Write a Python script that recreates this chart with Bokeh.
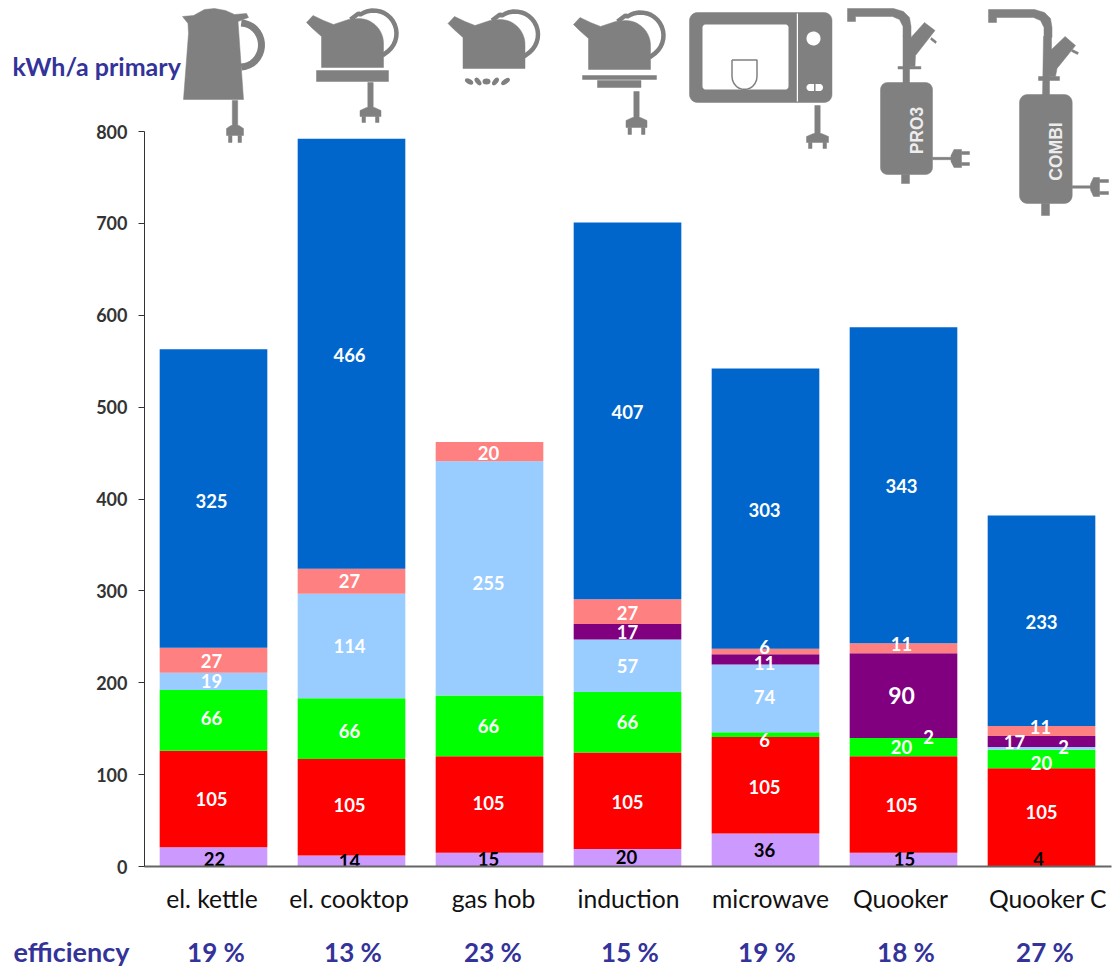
import numpy as np
from bokeh.embed import file_html
from bokeh.resources import INLINE
from bokeh.plotting import figure
from bokeh.layouts import column, row
from bokeh.models import ColumnDataSource, Range1d, FixedTicker
from bokeh.core.properties import value

categories = ["el. kettle", "el. cooktop", "gas hob", "induction", "microwave", "Quooker", "Quooker C"]
efficiency = ["19 %", "13 %", "23 %", "15 %", "19 %", "18 %", "27 %"]
series_names = ["base", "heating", "standby", "delivery", "storage", "cooling", "losses"]

base     = [21, 12, 15, 19, 36, 15, 0]
heating  = [105, 105, 105, 105, 105, 105, 107]
standby  = [66, 66, 66, 66, 5, 20, 20]
delivery = [19, 114, 255, 57, 74, 0, 3]
storage  = [0, 0, 0, 17, 11, 92, 12]
cooling  = [27, 27, 21, 27, 6, 11, 11]
losses   = [325, 468, 0, 410, 305, 344, 229]

base_lab     = ["22", "14", "15", "20", "36", "15", "4"]
heating_lab  = ["105", "105", "105", "105", "105", "105", "105"]
standby_lab  = ["66", "66", "66", "66", "6", "20", "20"]
delivery_lab = ["19", "114", "255", "57", "74", "2", "2"]
storage_lab  = ["", "", "", "17", "11", "90", "17"]
cooling_lab  = ["27", "27", "20", "27", "6", "11", "11"]
losses_lab   = ["325", "466", "", "407", "303", "343", "233"]

colors = ["#CC99FF", "#FF0000", "#00FF00", "#99CCFF", "#800080", "#FF8080", "#0066CC"]

# label nudges in screen pixels (manual placement in the original chart)
nudge_y = [[2, 0, -1, -1, 0, -1, -8], [0, -2, -1, 1, 2, 1, -5], [-2, 2, 0, 0, 5, 0, 4],
           [0, 0, 5, 0, -1, -1, -1], [0, 0, 0, 0, 4, 0, 0], [1, 0, 1, 1, -5, -4, -4], [2, 1, 0, 1, 1, 1, 1]]
nudge_x = [[1, -2, -1, -1, -1, 1, -3], [-2, -2, -1, 0, -1, -2, 0], [-2, -2, -1, 0, -1, -2, 0],
           [-2, -2, -1, 0, -1, 25, 22], [-2, -2, -1, 0, -1, -2, -27], [-2, -2, -1, 0, -1, -2, -1],
           [-2, -2, -1, 0, -1, -2, 0]]
tick_nudge = [-1.5, -2.5, 4, 1, 5, -3, 6.5]  # category captions are not quite centred under their bars

FONT = "Lato"
NAVY = "#333399"
GREY = "#808080"
W, H = 1114, 969
SCALE = 735 / 800.0  # pixels per kWh/a
SLOT = 138.0         # pixels per category

p = figure(width=W, height=H, output_backend="svg", toolbar_location=None,
           x_range=Range1d(0, (W - 144) / SLOT),
           y_range=Range1d(0, 866 / SCALE),
           min_border_left=144, min_border_right=0, min_border_top=0, min_border_bottom=H - 866)
p.outline_line_color = None
p.grid.visible = False
p.background_fill_color = "white"

slots = [i + 0.5 for i in range(len(categories))]
data = dict(slot=slots, base=base, heating=heating, standby=standby, delivery=delivery,
            storage=storage, cooling=cooling, losses=losses)
p.vbar_stack(series_names, x="slot", width=0.78, color=colors, line_color=None,
             source=ColumnDataSource(data))

# value labels
all_vals = [base, heating, standby, delivery, storage, cooling, losses]
all_labs = [base_lab, heating_lab, standby_lab, delivery_lab, storage_lab, cooling_lab, losses_lab]
stack = np.cumsum(np.array(all_vals, dtype=float), axis=0)
tx, ty, tt, tcol, tsize, ox, oy = [], [], [], [], [], [], []
for s, labs in enumerate(all_labs):
    for c, lab in enumerate(labs):
        if not lab:
            continue
        tx.append(slots[c])
        ty.append(stack[s, c] - all_vals[s][c] / 2.0)
        tt.append(lab)
        tcol.append("black" if s == 0 else "white")
        tsize.append("23px" if lab == "90" else "18.5px")
        ox.append(nudge_x[s][c])
        oy.append(nudge_y[s][c])
p.text(x="tx", y="ty", text="tt", text_color="tcol", text_font_size="tsize",
       text_font=value(FONT), text_font_style="bold", text_align="center", text_baseline="middle",
       x_offset="ox", y_offset="oy",
       source=ColumnDataSource(dict(tx=tx, ty=ty, tt=tt, tcol=tcol, tsize=tsize, ox=ox, oy=oy)))

# axes
ya = p.yaxis[0]
ya.bounds = (0, 800)
ya.ticker = list(range(0, 801, 100))
ya.axis_line_color = "#333333"
ya.axis_line_width = 1
ya.major_tick_line_color = "#333333"
ya.major_tick_in = 0
ya.major_tick_out = 6
ya.minor_tick_line_color = None
ya.major_label_text_font = FONT
ya.major_label_text_font_style = "bold"
ya.major_label_text_font_size = "18px"
ya.major_label_text_color = "#333333"
ya.major_label_standoff = 11

label_ticks = [s + d / SLOT for s, d in zip(slots, tick_nudge)]
xa = p.xaxis[0]
xa.bounds = (0, 7.01)
xa.ticker = FixedTicker(ticks=label_ticks)
xa.major_label_overrides = {s: c for s, c in zip(label_ticks, categories)}
xa.axis_line_color = "#666666"
xa.axis_line_width = 2
xa.major_tick_line_color = None
xa.minor_tick_line_color = None
xa.major_label_text_font = FONT
xa.major_label_text_font_size = "24.7px"
xa.major_label_text_color = "#111111"
xa.major_label_standoff = 11

# transparent full-page layer, in page pixels, for the pictograms and the free captions
o = figure(width=W, height=H, output_backend="svg", toolbar_location=None,
           x_range=Range1d(0, W), y_range=Range1d(H, 0),
           x_axis_location=None, y_axis_location=None,
           min_border=0)
o.outline_line_color = None
o.grid.visible = False
o.background_fill_alpha = 0
o.border_fill_alpha = 0

eff_x = [215.5, 352.5, 492.5, 629.5, 766.5, 905.5, 1044.5]
o.text(x=[12], y=[65], text=["kWh/a primary"], text_font=value(FONT),
       text_font_style="bold", text_font_size="25px", text_color=NAVY, text_align="left", text_baseline="middle")
o.text(x=[13], y=[951], text=["efficiency"], text_font=value(FONT),
       text_font_style="bold", text_font_size="27px", text_color=NAVY, text_align="left", text_baseline="middle")
o.text(x=eff_x, y=[951.5] * 7, text=efficiency, text_font=value(FONT), text_font_style="bold",
       text_font_size="26px", text_color=NAVY, text_align="center", text_baseline="middle")


# ---- pictograms ----
def rect(x0, y0, x1, y1):
    return [(x0, y0), (x1, y0), (x1, y1), (x0, y1)]


def arc(cx, cy, rx, ry, a0, a1, n=14):
    return [(cx + rx * np.cos(a), cy + ry * np.sin(a)) for a in np.radians(np.linspace(a0, a1, n))]


def rrect(x0, y0, x1, y1, r):
    pts = []
    for cx, cy, a0 in [(x1 - r, y0 + r, -90), (x1 - r, y1 - r, 0), (x0 + r, y1 - r, 90), (x0 + r, y0 + r, 180)]:
        pts += arc(cx, cy, r, r, a0, a0 + 90, 7)
    return pts


def shift(pts, dx, dy):
    return [(x + dx, y + dy) for x, y in pts]


def plug_down(cx, cord_top, head_top, head_bot, prong_bot, hw):
    return [rect(cx - 2.7, cord_top, cx + 2.7, head_top + 3),
            [(cx - 4, head_top), (cx + 4, head_top), (cx + hw, head_top + 3), (cx + hw, head_bot),
             (cx - hw, head_bot), (cx - hw, head_top + 3)],
            rect(cx - hw + 2, head_bot, cx - hw + 5.5, prong_bot),
            rect(cx + hw - 5.5, head_bot, cx + hw - 2, prong_bot)]


def plug_right(y, cord_l, head_l, head_r, prong_r, hh):
    return [rect(cord_l, y - 1.2, head_l + 3, y + 1.2),
            [(head_l, y - 3), (head_l + 3, y - hh), (head_r, y - hh), (head_r, y + hh), (head_l + 3, y + hh), (head_l, y + 3)],
            rect(head_r, y - hh + 2, prong_r, y - hh + 5),
            rect(head_r, y + hh - 5, prong_r, y + hh - 2)]


TEAPOT = [(306, 22), (312.5, 15), (323, 20), (333, 24), (348, 19)] + arc(358, 43, 25, 25, -90, 0) + \
         [(383, 67), (321, 67), (321, 36), (312, 28)]
HANDLE = [(350, 19), (358, 13)] + arc(373, 33, 23, 23, -125, 50, 18) + [(382, 55)]


def polyline(pts, dx=0, dy=0, lw=4.5):
    return ([x + dx for x, _ in pts], [y + dy for _, y in pts], lw)


grey = []
lines = []
# electric kettle
grey.append([(182, 16), (193, 15), (204, 9), (214, 8), (225, 10), (234, 14), (246, 13), (248, 17), (237.5, 21),
             (243, 99), (183, 99), (188, 33), (187.5, 23)])
lines.append(polyline(arc(240, 44.5, 21, 22, -88, 88, 18), lw=7))
grey += plug_down(234.5, 100, 125, 135, 142, 8.5)
# cooktop
grey.append(TEAPOT)
lines.append(polyline(HANDLE))
grey.append(rect(316, 70, 388, 81))
grey += plug_down(370, 82, 107, 116, 122, 10.5)
# gas hob
grey.append(shift(TEAPOT, 141.5, 1))
lines.append(polyline(HANDLE, 141.5, 1))
# induction
grey.append(shift(TEAPOT, 267, 2))
lines.append(polyline(HANDLE, 267, 2))
grey.append(rect(582, 75, 656, 79))
grey.append(rect(597, 80, 640.5, 87))
grey += plug_down(636, 91, 117, 127, 134, 10.5)
# microwave
grey.append(rrect(689, 12, 831.5, 102, 8))
grey += plug_down(817, 105, 133, 142, 148, 11)


# Quooker PRO3
def faucet(dx, dy):
    return [[(847 + dx, 8 + dy), (893 + dx, 8 + dy), (903 + dx, 11 + dy), (909 + dx, 17 + dy), (910.5 + dx, 26 + dy),
             (910.5 + dx, 36 + dy), (902.5 + dx, 36 + dy), (902.5 + dx, 26 + dy), (899 + dx, 19 + dy), (892 + dx, 16 + dy),
             (855 + dx, 16 + dy), (855 + dx, 21 + dy), (847 + dx, 21 + dy)]]


grey += faucet(0, 0)
grey.append([(902.5, 35), (910.5, 35), (910.5, 37), (924, 22), (934.5, 30), (915, 55), (914.5, 66), (909, 66), (909, 84), (902.5, 84)])
grey.append(rect(897.5, 66, 920.4, 68.5))
grey.append([(931, 37), (936, 41), (935, 43), (930, 39)])
grey.append(rrect(880, 82, 932, 174, 7))
grey.append(rect(901, 174, 909, 183))
grey += plug_right(158, 932, 950.5, 961, 969, 9)
# Quooker COMBI
grey += faucet(141, 1)
grey.append([(1043, 36), (1051, 36), (1051, 49), (1064.6, 36), (1075, 45), (1056.5, 68), (1055, 76), (1049, 76), (1049, 96), (1042, 96)])
grey.append(rect(1038, 76, 1059, 80))
grey.append([(1072, 49), (1078, 52), (1077, 54), (1071, 51)])
grey.append(rrect(1019, 94, 1071.7, 203, 8))
grey.append(rect(1041, 203, 1049, 215))
grey += plug_right(186.5, 1071.7, 1090, 1099, 1108, 9.5)

o.patches([[a for a, _ in s] for s in grey], [[b for _, b in s] for s in grey],
          fill_color=GREY, line_color=GREY, line_width=0.5)
for xs, ys, lw in lines:
    o.line(xs, ys, line_color=GREY, line_width=lw)
# flames of the gas hob
o.ellipse(x=[468.6, 477.5, 486, 495, 505], y=[81, 81, 81, 81, 81], width=[9, 9, 6, 9, 10], height=[5, 5, 8, 5, 5],
          angle=[-0.5, -0.9, 1.57, 0.9, 0.6], fill_color=GREY, line_color=None)

white = [rrect(702, 24, 788, 89, 3), rect(796.3, 13, 797.5, 101), rrect(806, 83.5, 822.5, 90.5, 3.4),
         arc(813, 38, 7, 7, 0, 360, 40)]
o.patches([[a for a, _ in s] for s in white], [[b for _, b in s] for s in white],
          fill_color="white", line_color=None)
cup = [(731.5, 59.5), (756.5, 59.5), (756.5, 76)] + arc(744, 76, 12.5, 13, 0, 180, 12) + [(731.5, 59.5)]
o.line([a for a, _ in cup], [b for _, b in cup], line_color=GREY, line_width=1.5)
o.line([814.3, 814.3], [83.5, 90.5], line_color=GREY, line_width=1.5)
for t, x, y in [("PRO3", 916, 130), ("COMBI", 1055.7, 151)]:
    o.text(x=[x], y=[y], text=[t], angle=[np.pi / 2], text_color="#EDEDED", text_font=value("Liberation Sans"),
           text_font_style="bold", text_font_size="17.5px", text_align="center", text_baseline="middle")

page = column(row(p), row(o, margin=(-H, 0, 0, 0)), spacing=0)
open("out.html", "w").write(file_html(page, INLINE))
